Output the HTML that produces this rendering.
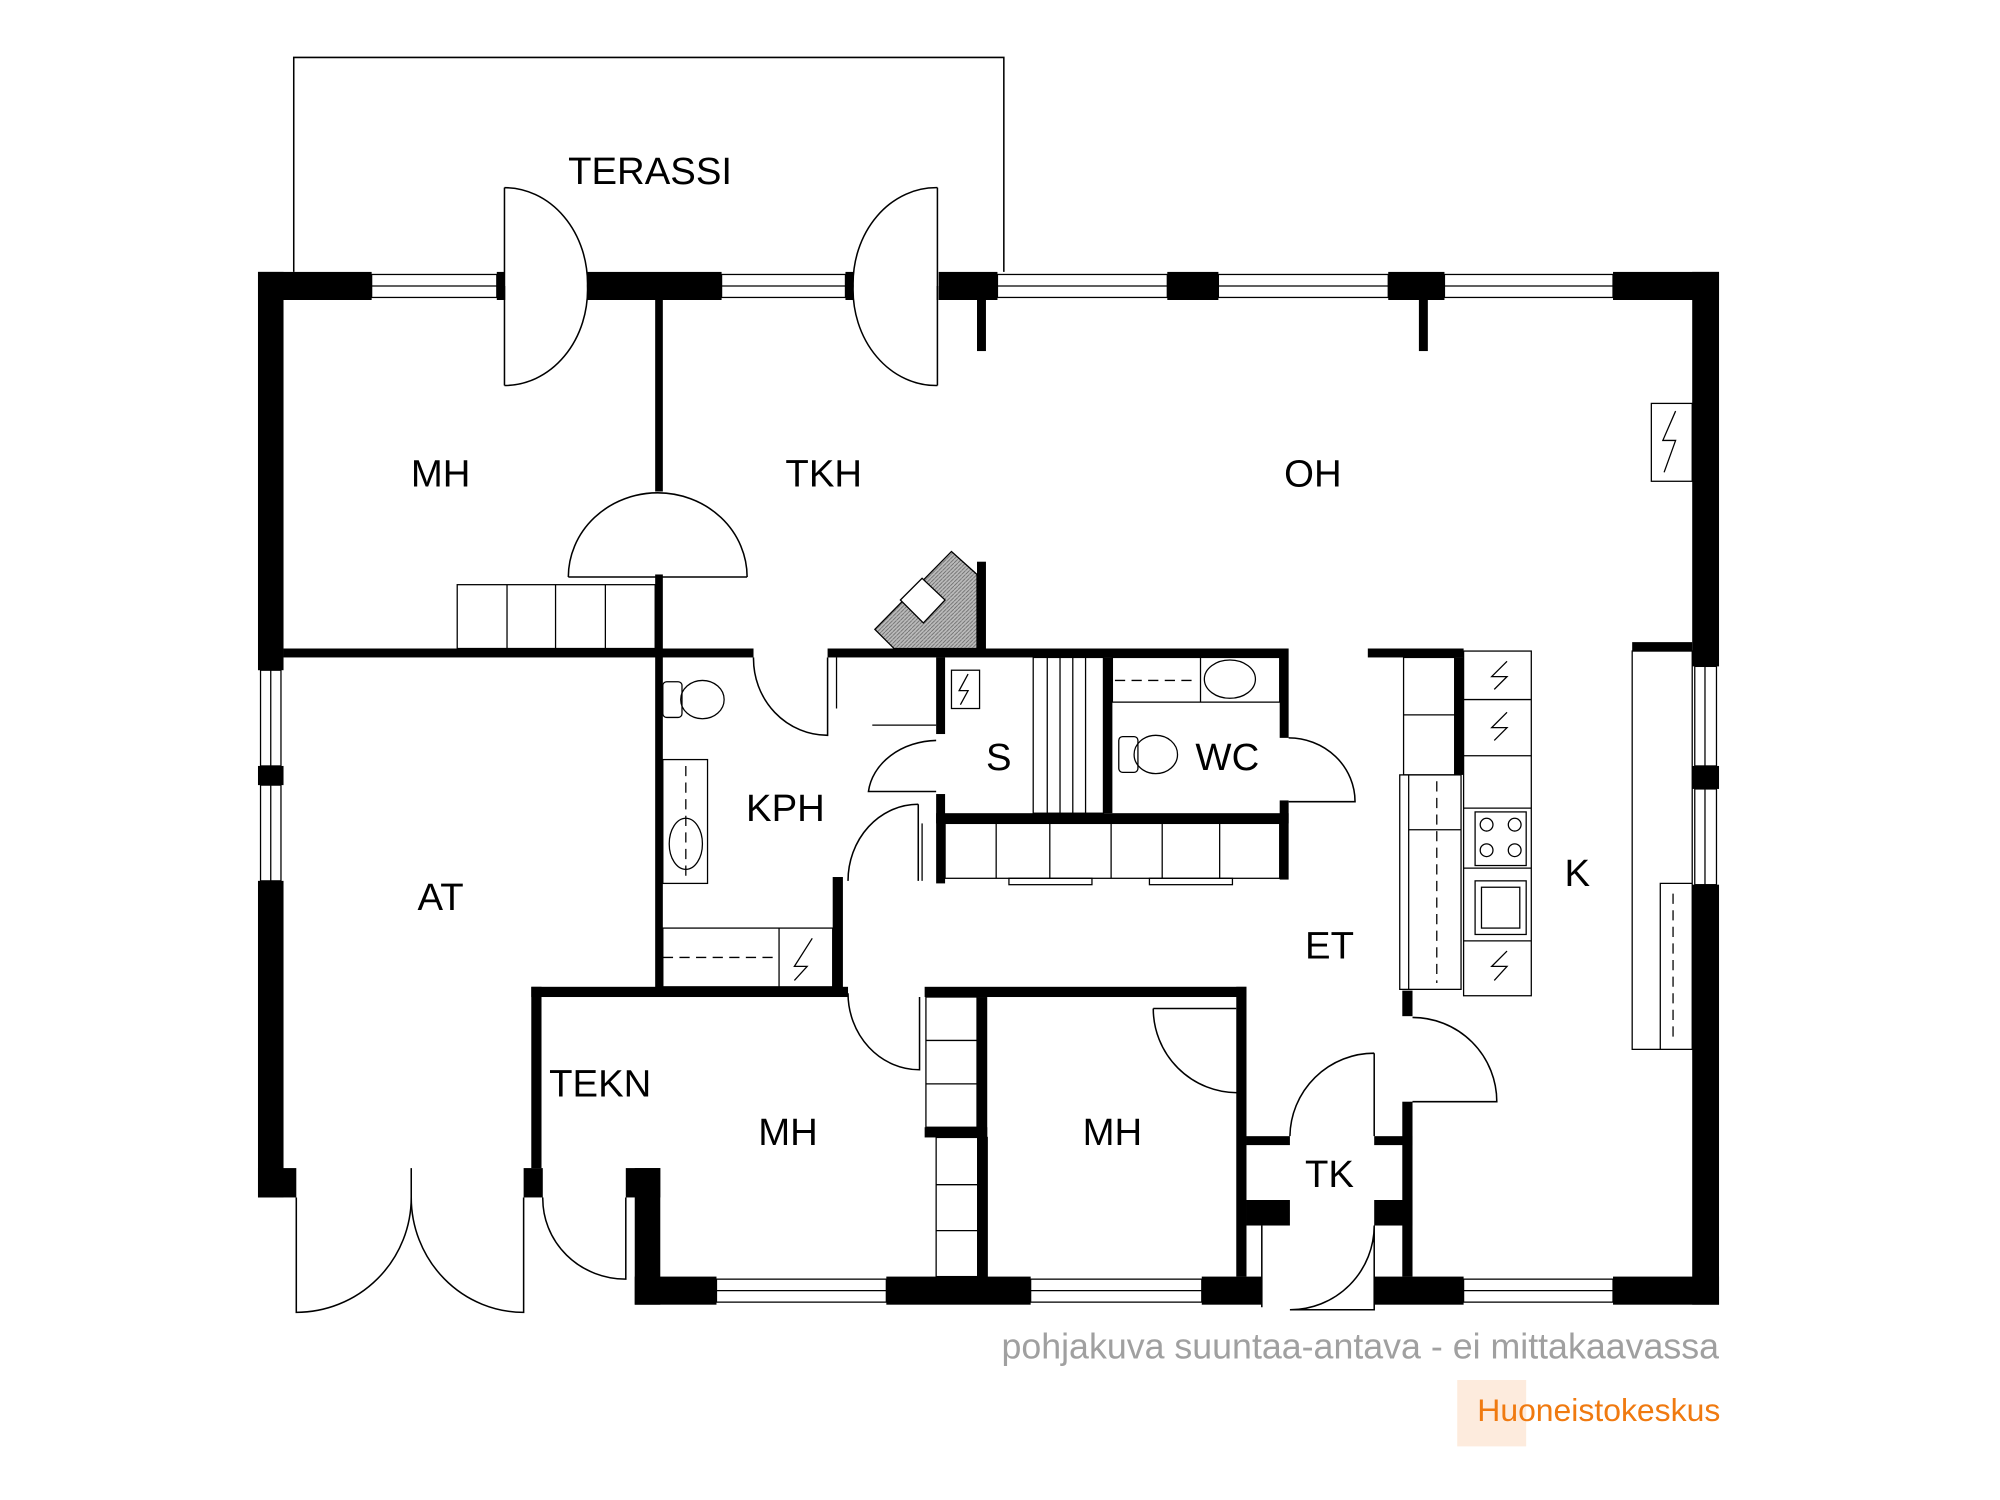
<!DOCTYPE html>
<html><head><meta charset="utf-8"><style>
html,body{margin:0;padding:0;background:#fff;}
svg{display:block;}
text{font-family:"Liberation Sans",Arial,sans-serif;}
</style></head><body>
<svg width="2000" height="1500" viewBox="0 0 1566 1175" preserveAspectRatio="none" xmlns="http://www.w3.org/2000/svg">
<defs>
<pattern id="h" width="3" height="3" patternUnits="userSpaceOnUse"><rect width="3" height="3" fill="#bbb"/><path d="M0 3L3 0" stroke="#666" stroke-width="0.6"/></pattern>
</defs>
<rect width="1566" height="1175" fill="#fff"/>
<polyline points="230,213 230,45 786,45 786,213" fill="none" stroke="#000" stroke-width="1.2"/>
<g fill="#000">
<rect x="202" y="213" width="89" height="22"/>
<rect x="389" y="213" width="6" height="22"/>
<rect x="460" y="213" width="105" height="22"/>
<rect x="662" y="213" width="6" height="22"/>
<rect x="735" y="213" width="46" height="22"/>
<rect x="914" y="213" width="40" height="22"/>
<rect x="1087" y="213" width="44" height="22"/>
<rect x="1263" y="213" width="83" height="22"/>
<rect x="765" y="235" width="7" height="40"/>
<rect x="1111" y="235" width="7" height="40"/>
<rect x="202" y="213" width="20" height="312"/>
<rect x="202" y="600" width="20" height="15"/>
<rect x="202" y="690" width="20" height="248"/>
<rect x="202" y="915" width="30" height="23"/>
<rect x="1325" y="213" width="21" height="309"/>
<rect x="1325" y="600" width="21" height="18"/>
<rect x="1325" y="693" width="21" height="329"/>
<rect x="410" y="915" width="15" height="23"/>
<rect x="490" y="915" width="27" height="23"/>
<rect x="497" y="915" width="20" height="107"/>
<rect x="497" y="1000" width="64" height="22"/>
<rect x="694" y="1000" width="113" height="22"/>
<rect x="941" y="1000" width="47" height="22"/>
<rect x="1076" y="1000" width="70" height="22"/>
<rect x="1263" y="1000" width="83" height="22"/>
<rect x="513" y="235" width="6" height="150"/>
<rect x="513" y="450" width="6" height="330"/>
<rect x="222" y="508" width="368" height="7"/>
<rect x="648" y="508" width="360" height="7"/>
<rect x="765" y="440" width="7" height="70"/>
<rect x="1071" y="508" width="75" height="7"/>
<rect x="1278" y="503" width="47" height="7"/>
<rect x="733" y="515" width="7" height="60"/>
<rect x="733" y="622" width="7" height="70"/>
<rect x="864" y="515" width="7" height="122"/>
<rect x="1002" y="508" width="7" height="70"/>
<rect x="1002" y="627" width="7" height="62"/>
<rect x="733" y="637" width="276" height="8"/>
<rect x="652" y="687" width="8" height="87"/>
<rect x="416" y="773" width="8" height="142"/>
<rect x="416" y="773" width="248" height="8"/>
<rect x="724" y="773" width="252" height="8"/>
<rect x="765" y="781" width="8" height="219"/>
<rect x="968" y="773" width="8" height="227"/>
<rect x="724" y="883" width="49" height="8"/>
<rect x="976" y="890" width="34" height="7"/>
<rect x="976" y="940" width="34" height="20"/>
<rect x="1076" y="890" width="30" height="7"/>
<rect x="1098" y="863" width="8" height="137"/>
<rect x="1098" y="776" width="8" height="20"/>
<rect x="1076" y="940" width="30" height="20"/>
<rect x="1139" y="515" width="7" height="92"/>
</g>
<g fill="#fff" stroke="#000" stroke-width="1">
<rect x="291" y="215" width="98" height="18"/><line x1="291" y1="224" x2="389" y2="224"/>
<rect x="565" y="215" width="97" height="18"/><line x1="565" y1="224" x2="662" y2="224"/>
<rect x="781" y="215" width="133" height="18"/><line x1="781" y1="224" x2="914" y2="224"/>
<rect x="954" y="215" width="133" height="18"/><line x1="954" y1="224" x2="1087" y2="224"/>
<rect x="1131" y="215" width="132" height="18"/><line x1="1131" y1="224" x2="1263" y2="224"/>
<rect x="204" y="525" width="16" height="75"/><line x1="212" y1="525" x2="212" y2="600"/>
<rect x="204" y="615" width="16" height="75"/><line x1="212" y1="615" x2="212" y2="690"/>
<rect x="1327" y="522" width="17" height="78"/><line x1="1335" y1="522" x2="1335" y2="600"/>
<rect x="1327" y="618" width="17" height="75"/><line x1="1335" y1="618" x2="1335" y2="693"/>
<rect x="561" y="1002" width="133" height="18"/><line x1="561" y1="1011" x2="694" y2="1011"/>
<rect x="807" y="1002" width="134" height="18"/><line x1="807" y1="1011" x2="941" y2="1011"/>
<rect x="1146" y="1002" width="117" height="18"/><line x1="1146" y1="1011" x2="1263" y2="1011"/>
</g>
<g fill="none" stroke="#000" stroke-width="1.2">
<path d="M395 147 L395 235 M395 147 A65 75 0 0 1 460 224"/>
<path d="M395 302 L395 224 M395 302 A65 75 0 0 0 460 224"/>
<path d="M734 147 L734 235 M734 147 A65 75 0 0 0 668 224"/>
<path d="M734 302 L734 224 M734 302 A65 75 0 0 1 668 224"/>
<path d="M445 452 L585 452 M445 452 A70 66 0 0 1 585 452"/>
<path d="M590 515 A58 60 0 0 0 648 576 L648 515"/>
<path d="M733 580 A55 45 0 0 0 680 620 L733 620"/>
<path d="M719 630 A55 60 0 0 0 664 690 M719 630 L719 690"/>
<path d="M664 778 A56 60 0 0 0 720 838 L720 781"/>
<path d="M1009 578 A52 50 0 0 1 1061 628 L1009 628"/>
<path d="M903 790 A66 66 0 0 0 969 856 M903 790 L968 790"/>
<path d="M1106 797 A66 66 0 0 1 1172 863 L1106 863"/>
<path d="M1076 825 A66 66 0 0 0 1010 890 M1076 825 L1076 890"/>
<path d="M1076 960 A66 66 0 0 1 1010 1026 L1076 1026 L1076 960"/>
<line x1="988" y1="960" x2="988" y2="1024"/>
<path d="M232 938 L232 1028 A90 90 0 0 0 322 938 L322 915"/>
<path d="M410 938 L410 1028 A88 90 0 0 1 322 938"/>
<path d="M425 938 A65 63 0 0 0 490 1002 L490 938"/>
</g>
<g fill="none" stroke="#000" stroke-width="1">
<rect x="358" y="458" width="155" height="50"/>
<line x1="397" y1="458" x2="397" y2="508"/><line x1="435" y1="458" x2="435" y2="508"/><line x1="474" y1="458" x2="474" y2="508"/>
<rect x="1293" y="316" width="32" height="61"/>
<path d="M1312 322 L1302 345 L1312 345 L1303 370"/>
<rect x="740" y="645" width="262" height="43"/>
<line x1="780" y1="645" x2="780" y2="688"/><line x1="822" y1="645" x2="822" y2="688"/><line x1="870" y1="645" x2="870" y2="688"/><line x1="910" y1="645" x2="910" y2="688"/><line x1="955" y1="645" x2="955" y2="688"/>
<rect x="790" y="688" width="65" height="5"/><rect x="900" y="688" width="65" height="5"/>
<rect x="725" y="781" width="40" height="102"/><line x1="725" y1="815" x2="765" y2="815"/><line x1="725" y1="849" x2="765" y2="849"/>
<rect x="733" y="891" width="40" height="109"/><line x1="733" y1="928" x2="773" y2="928"/><line x1="733" y1="964" x2="773" y2="964"/>
<rect x="809" y="515" width="55" height="122"/>
<line x1="820" y1="515" x2="820" y2="637"/><line x1="830" y1="515" x2="830" y2="637"/><line x1="840" y1="515" x2="840" y2="637"/><line x1="850" y1="515" x2="850" y2="637"/>
<rect x="745" y="525" width="22" height="30"/><path d="M758 528 L751 541 L758 541 L752 552"/>
<rect x="519" y="595" width="35" height="97"/><line x1="537" y1="600" x2="537" y2="690" stroke-dasharray="8,5"/>
<ellipse cx="537" cy="661" rx="13" ry="20"/>
<ellipse cx="550" cy="548" rx="17" ry="15"/><rect x="519" y="534" width="15" height="28" rx="3"/>
<ellipse cx="905" cy="591" rx="17" ry="15"/><rect x="876" y="577" width="15" height="28" rx="3"/>
<rect x="519" y="727" width="133" height="46"/><line x1="610" y1="727" x2="610" y2="773"/><line x1="519" y1="750" x2="608" y2="750" stroke-dasharray="8,5"/>
<path d="M636 735 L622 757 L632 757 L622 768"/>
<rect x="871" y="515" width="131" height="35"/><line x1="940" y1="515" x2="940" y2="550"/><line x1="873" y1="533" x2="938" y2="533" stroke-dasharray="8,5"/>
<ellipse cx="963" cy="532" rx="20" ry="15"/>
<rect x="1099" y="515" width="40" height="92"/><line x1="1099" y1="560" x2="1139" y2="560"/>
<rect x="1146" y="510" width="53" height="270"/>
<line x1="1146" y1="548" x2="1199" y2="548"/><line x1="1146" y1="592" x2="1199" y2="592"/><line x1="1146" y1="633" x2="1199" y2="633"/><line x1="1146" y1="680" x2="1199" y2="680"/><line x1="1146" y1="737" x2="1199" y2="737"/>
<rect x="1155" y="636" width="40" height="42"/><circle cx="1164" cy="646" r="5"/><circle cx="1186" cy="646" r="5"/><circle cx="1164" cy="666" r="5"/><circle cx="1186" cy="666" r="5"/>
<rect x="1155" y="690" width="40" height="42"/><rect x="1160" y="695" width="30" height="32"/>
<path d="M1180 518 L1168 530 L1180 530 L1170 540 M1180 558 L1168 570 L1180 570 L1170 580 M1180 745 L1168 757 L1180 757 L1170 768"/>
<rect x="1096" y="607" width="48" height="168"/><line x1="1103" y1="607" x2="1103" y2="775"/><line x1="1125" y1="612" x2="1125" y2="770" stroke-dasharray="8,5"/>
<line x1="1103" y1="650" x2="1144" y2="650"/>
<rect x="1278" y="510" width="47" height="312"/>
<polyline points="1325,692 1300,692 1300,822"/>
<line x1="1310" y1="700" x2="1310" y2="815" stroke-dasharray="8,5"/>
<line x1="655" y1="515" x2="655" y2="555"/>
<line x1="683" y1="568" x2="733" y2="568"/>
<line x1="722" y1="645" x2="722" y2="690"/>
</g>
<polygon points="685,493 745,432 765,450 765,508 700,508" fill="url(#h)" stroke="#000" stroke-width="1"/>
<polygon points="705,470 722,453 740,470 723,488" fill="#fff" stroke="#000" stroke-width="1"/>
<g font-size="30" fill="#000" text-anchor="middle">
<text x="509" y="144">TERASSI</text>
<text x="345" y="381">MH</text>
<text x="645" y="381">TKH</text>
<text x="1028" y="381">OH</text>
<text x="782" y="603">S</text>
<text x="961" y="603">WC</text>
<text x="615" y="643">KPH</text>
<text x="1235" y="694">K</text>
<text x="345" y="713">AT</text>
<text x="1041" y="751">ET</text>
<text x="470" y="859">TEKN</text>
<text x="617" y="897">MH</text>
<text x="871" y="897">MH</text>
<text x="1041" y="930">TK</text>
</g>
<text x="1346" y="1064" font-size="28" fill="#a0a0a0" text-anchor="end">pohjakuva suuntaa-antava - ei mittakaavassa</text>
<rect x="1141" y="1081" width="54" height="52" fill="#fdebdd"/>
<text x="1347" y="1113" font-size="25" fill="#f07a10" text-anchor="end">Huoneistokeskus</text>
</svg>
</body></html>
